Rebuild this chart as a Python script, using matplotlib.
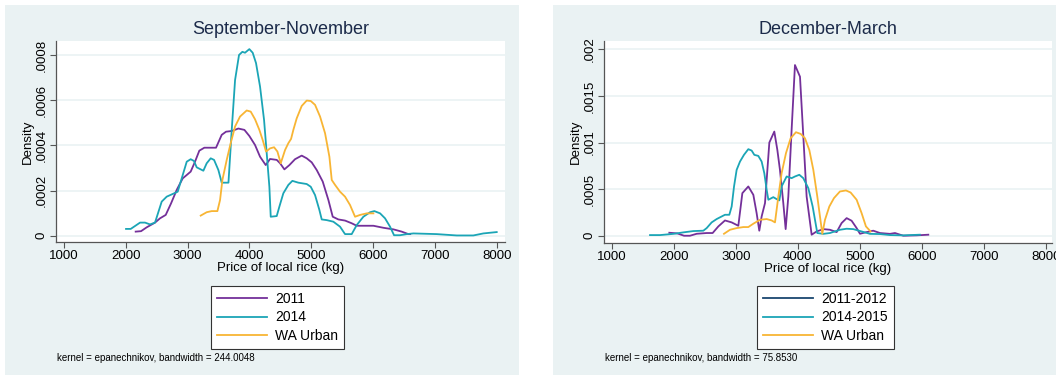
import matplotlib
matplotlib.use("Agg")
import matplotlib.pyplot as plt
from matplotlib.patches import Rectangle
from matplotlib.lines import Line2D
import numpy as np

plt.rcParams['font.family'] = ['Liberation Sans', 'DejaVu Sans']

# densities are written in units of 1e-4
SCALE = 1e-4

# September-November
sn_2011_x = [2159, 2246, 2337, 2472, 2553, 2645, 2731, 2823, 2920, 2985, 3049, 3119, 3189, 3270,
             3362, 3459, 3551, 3621, 3713, 3820, 3918, 3998, 4090, 4171, 4263, 4333, 4441, 4495,
             4565, 4646, 4737, 4845, 4926, 5007, 5088, 5185, 5277, 5347, 5438, 5546, 5654, 5735,
             5870, 6005, 6167, 6329, 6463, 6571, 6600]
sn_2011_y = [0.18, 0.20, 0.37, 0.58, 0.77, 0.92, 1.43, 2.03, 2.54, 2.69, 2.84, 3.28, 3.77, 3.90,
             3.90, 3.90, 4.47, 4.61, 4.64, 4.75, 4.69, 4.42, 4.02, 3.50, 3.13, 3.40, 3.36, 3.21,
             2.94, 3.13, 3.39, 3.55, 3.43, 3.25, 2.91, 2.40, 1.58, 0.84, 0.72, 0.67, 0.55, 0.44,
             0.44, 0.44, 0.35, 0.28, 0.18, 0.07, 0.07]

sn_2014_x = [2003, 2079, 2230, 2310, 2391, 2472, 2580, 2661, 2742, 2839, 2985, 3049, 3103, 3146,
             3254, 3308, 3373, 3427, 3497, 3551, 3660, 3713, 3767, 3831, 3885, 3928, 3998, 4052,
             4106, 4171, 4236, 4279, 4322, 4344, 4441, 4484, 4548, 4629, 4694, 4791, 4926, 4991,
             5061, 5131, 5169, 5250, 5357, 5465, 5546, 5654, 5735, 5843, 5951, 6021, 6113, 6193,
             6274, 6339, 6436, 6544, 6652, 7029, 7353, 7622, 7784, 8000]
sn_2014_y = [0.30, 0.30, 0.58, 0.58, 0.50, 0.58, 1.51, 1.73, 1.83, 1.95, 3.28, 3.39, 3.31, 3.03,
             2.88, 3.21, 3.43, 3.36, 2.91, 2.35, 2.35, 4.69, 6.90, 8.01, 8.15, 8.11, 8.27, 8.11,
             7.65, 6.61, 5.13, 3.65, 2.17, 0.84, 0.87, 1.29, 1.88, 2.25, 2.43, 2.35, 2.29, 2.17,
             1.80, 1.14, 0.72, 0.69, 0.62, 0.40, 0.07, 0.07, 0.47, 0.84, 1.04, 1.09, 0.99, 0.77,
             0.40, 0.02, 0.02, 0.07, 0.10, 0.07, 0.01, 0.01, 0.10, 0.16]

sn_wa_x = [3211, 3308, 3389, 3481, 3524, 3562, 3632, 3696, 3767, 3847, 3955, 4020, 4090, 4160,
           4214, 4268, 4333, 4398, 4452, 4506, 4576, 4629, 4673, 4710, 4764, 4845, 4926, 4991,
           5061, 5142, 5223, 5293, 5331, 5385, 5465, 5546, 5627, 5708, 5789, 5897, 6005]
sn_wa_y = [0.89, 1.04, 1.09, 1.09, 1.58, 2.47, 3.36, 4.10, 4.84, 5.28, 5.55, 5.50, 5.16, 4.69,
           4.24, 3.73, 3.87, 3.92, 3.73, 3.21, 3.80, 4.10, 4.29, 4.69, 5.20, 5.75, 5.99, 5.97,
           5.80, 5.28, 4.54, 3.50, 2.47, 2.25, 1.95, 1.73, 1.36, 0.84, 0.92, 0.99, 0.99]

# December-March
dm_2011_x = [1929, 2058, 2166, 2262, 2370, 2531, 2627, 2719, 2826, 2934, 3041, 3106, 3202, 3283,
             3336, 3379, 3417, 3471, 3541, 3621, 3670, 3712, 3766, 3804, 3847, 3900, 3954, 4035,
             4089, 4142, 4223, 4303, 4411, 4518, 4626, 4706, 4787, 4867, 4948, 5002, 5109, 5216,
             5324, 5485, 5566, 5700, 5915, 6103]
dm_2011_y = [0.32, 0.25, 0.00, 0.00, 0.21, 0.29, 0.29, 1.00, 1.64, 1.43, 1.07, 4.57, 5.29, 4.39,
             2.43, 0.54, 2.07, 3.50, 10.00, 11.18, 9.21, 7.07, 3.50, 0.71, 4.21, 11.36, 18.32, 17.07,
             10.64, 4.21, 0.11, 0.46, 0.71, 0.64, 0.39, 1.36, 1.89, 1.61, 0.82, 0.21, 0.39, 0.54,
             0.29, 0.20, 0.29, 0.00, 0.04, 0.11]

dm_2014_x = [1618, 1779, 1994, 2155, 2316, 2477, 2531, 2611, 2692, 2773, 2826, 2896, 2934, 2972,
             3014, 3068, 3132, 3202, 3256, 3299, 3363, 3417, 3460, 3498, 3525, 3605, 3659, 3702,
             3739, 3820, 3900, 3954, 4024, 4088, 4169, 4239, 4314, 4411, 4518, 4679, 4787, 4894,
             5028, 5163, 5324, 5485, 5700, 5968]
dm_2014_y = [0.07, 0.07, 0.20, 0.36, 0.50, 0.54, 0.82, 1.43, 1.79, 2.07, 2.25, 2.25, 3.14, 5.29,
             7.07, 7.96, 8.68, 9.29, 9.14, 8.68, 8.57, 7.96, 6.71, 4.93, 3.86, 4.14, 3.93, 3.79,
             5.29, 6.36, 6.18, 6.36, 6.54, 6.18, 5.11, 3.14, 0.29, 0.20, 0.29, 0.64, 0.75, 0.71,
             0.46, 0.20, 0.18, 0.07, 0.04, 0.11]

dm_wa_x = [2810, 2907, 3014, 3122, 3202, 3283, 3390, 3498, 3578, 3632, 3686, 3739, 3809, 3884,
           3970, 4046, 4115, 4185, 4250, 4314, 4357, 4395, 4438, 4508, 4583, 4679, 4776, 4851,
           4948, 5028, 5098, 5173]
dm_wa_y = [0.21, 0.64, 0.82, 0.93, 0.93, 1.29, 1.71, 1.79, 1.64, 1.43, 4.21, 6.71, 8.86, 10.46,
           11.11, 10.93, 10.46, 9.21, 7.07, 4.21, 2.07, 0.21, 1.71, 3.14, 4.04, 4.75, 4.86, 4.64,
           3.86, 2.43, 1.00, 0.46]

x_ticks = [1000, 2000, 3000, 4000, 5000, 6000, 7000, 8000]
sn_yticks = [0, 0.0002, 0.0004, 0.0006, 0.0008]
sn_ylabels = ['0', '.0002', '.0004', '.0006', '.0008']
dm_yticks = [0, 0.0005, 0.001, 0.0015, 0.002]
dm_ylabels = ['0', '.0005', '.001', '.0015', '.002']

PURPLE = '#74309a'
TEAL = '#1ba5b6'
ORANGE = '#f8b534'
NAVY = '#1a476f'
BG = '#eaf2f3'
TITLE = '#1c2b4a'

W, H = 1056, 376
fig = plt.figure(figsize=(W / 100, H / 100), dpi=100)
fig.patch.set_facecolor('white')

# grey-blue graph regions behind each panel
for x0, x1 in [(5, 519), (553, 1056)]:
    fig.patches.append(Rectangle((x0 / W, 1 - 375 / H), (x1 - x0) / W, 370 / H,
                                 transform=fig.transFigure, facecolor=BG,
                                 edgecolor='none', zorder=-10))


def panel(px_left, px_right, px_top, px_bottom, xlim, ylim, yticks, ylabels):
    ax = fig.add_axes([px_left / W, 1 - px_bottom / H,
                       (px_right - px_left) / W, (px_bottom - px_top) / H])
    ax.set_zorder(5)
    ax.set_facecolor('white')
    ax.set_xlim(*xlim)
    ax.set_ylim(*ylim)
    ax.set_xticks(x_ticks)
    ax.set_xticklabels([str(t) for t in x_ticks], fontsize=9.5)
    ax.set_yticks(yticks)
    ax.set_yticklabels(ylabels, fontsize=9.5, rotation=90, va='center')
    for s in ['top', 'right']:
        ax.spines[s].set_visible(False)
    for s in ['left', 'bottom']:
        ax.spines[s].set_color('#555555')
        ax.spines[s].set_linewidth(0.9)
    ax.tick_params(direction='out', length=4, width=0.8, color='#555555', pad=2)
    ax.grid(axis='y', color=BG, linewidth=1.2)
    ax.set_axisbelow(True)
    ax.set_xlabel('Price of local rice (kg)', fontsize=9.5, labelpad=0)
    ax.set_ylabel('Density', fontsize=9.5, labelpad=1)
    return ax


ax1 = panel(56, 505, 41, 242, (870, 8134), (-0.000028, 0.000863), sn_yticks, sn_ylabels)
ax1.plot(sn_2011_x, np.array(sn_2011_y) * SCALE, color=PURPLE, lw=1.3, label='2011')
ax1.plot(sn_2014_x, np.array(sn_2014_y) * SCALE, color=TEAL, lw=1.3, label='2014')
ax1.plot(sn_wa_x, np.array(sn_wa_y) * SCALE, color=ORANGE, lw=1.3, label='WA Urban')

ax2 = panel(604, 1052, 41, 243, (876, 8097), (-0.000078, 0.00209), dm_yticks, dm_ylabels)
ax2.plot(dm_2011_x, np.array(dm_2011_y) * SCALE, color=PURPLE, lw=1.3)
ax2.plot(dm_2014_x, np.array(dm_2014_y) * SCALE, color=TEAL, lw=1.3)
ax2.plot(dm_wa_x, np.array(dm_wa_y) * SCALE, color=ORANGE, lw=1.3)

fig.text(280.5 / W, 1 - 30 / H, 'September-November', ha='center', va='center',
         fontsize=13, color=TITLE)
fig.text(828 / W, 1 - 30 / H, 'December-March', ha='center', va='center',
         fontsize=13, color=TITLE)

leg_kw = dict(loc='upper center', fontsize=10, frameon=True, fancybox=False,
              handlelength=3.6, handletextpad=0.6, labelspacing=0.3,
              borderpad=0.45, borderaxespad=0, facecolor='white', framealpha=1)
leg1 = fig.legend(handles=ax1.get_lines(), bbox_to_anchor=(277.5 / W, 1 - 286 / H), **leg_kw)
handles2 = [Line2D([], [], color=NAVY, lw=1.3), Line2D([], [], color=TEAL, lw=1.3),
            Line2D([], [], color=ORANGE, lw=1.3)]
leg2 = fig.legend(handles=handles2, labels=['2011-2012', '2014-2015', 'WA Urban'],
                  bbox_to_anchor=(825.5 / W, 1 - 286 / H), **leg_kw)
for leg in (leg1, leg2):
    leg.get_frame().set_edgecolor('#333333')
    leg.get_frame().set_linewidth(0.8)

fig.text(57 / W, 1 - 358 / H, 'kernel = epanechnikov, bandwidth = 244.0048',
         fontsize=7, va='center')
fig.text(605 / W, 1 - 358 / H, 'kernel = epanechnikov, bandwidth = 75.8530',
         fontsize=7, va='center')

fig.savefig('out.png', dpi=100)
